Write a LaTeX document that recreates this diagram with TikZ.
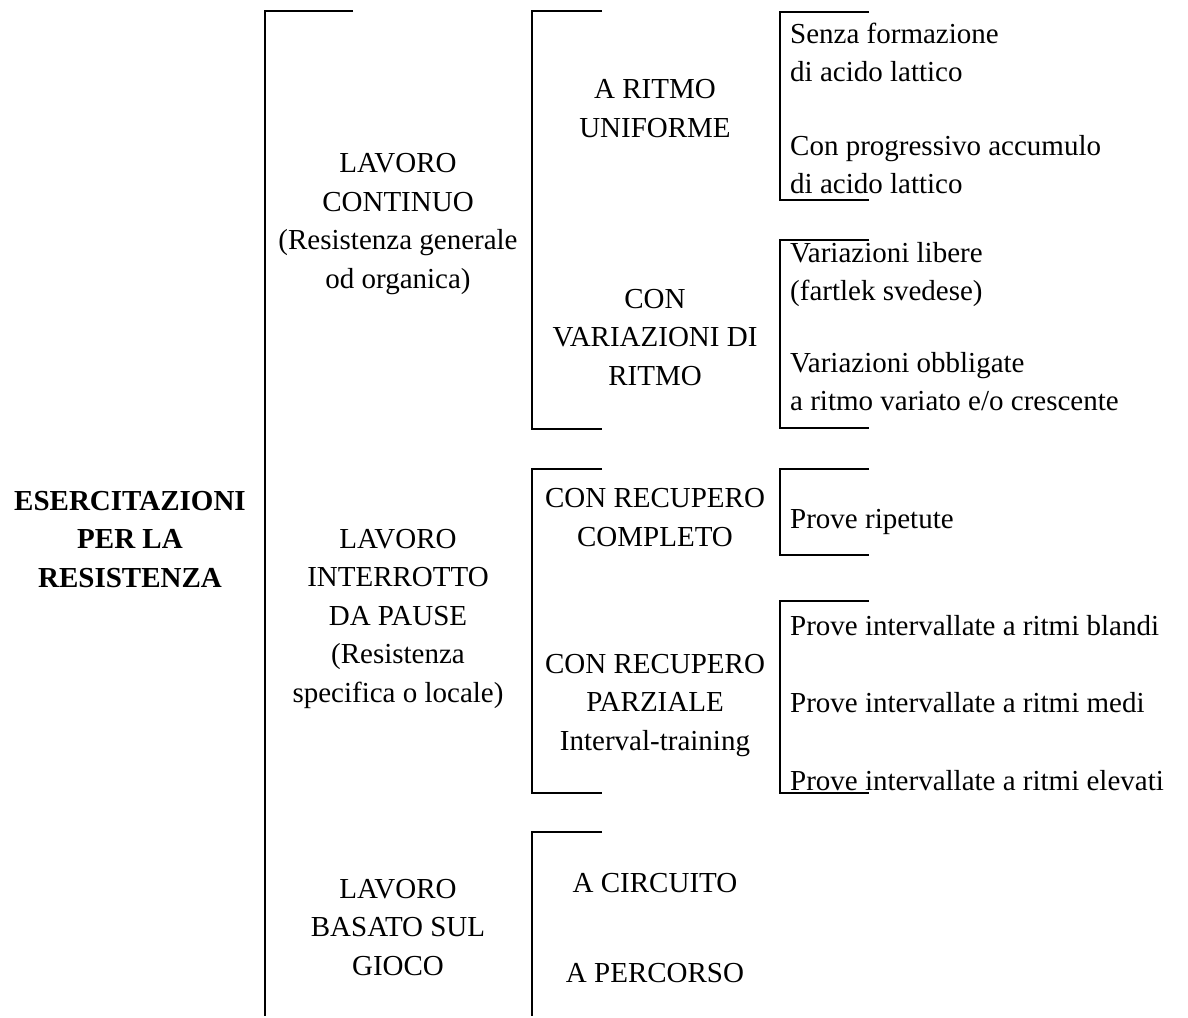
\documentclass[tikz,border=0pt]{standalone}
\usepackage{fontspec}
\setmainfont{Liberation Serif}
\begin{document}
\begin{tikzpicture}[x=1pt,y=-1pt,
  txt/.style={font=\fontsize{29}{38.5}\selectfont, inner sep=0pt, anchor=base, align=center},
  leaf/.style={font=\fontsize{29}{38}\selectfont, inner sep=0pt, anchor=base west, align=left},
  brk/.style={line width=2pt, line join=miter}]
\useasboundingbox (0,0) rectangle (1188,1017);
% ---------- texts (anchored at the baseline of the last line) ----------
\node[txt, font=\fontsize{29}{38.5}\selectfont\bfseries] (root) at (130,587) {ESERCITAZIONI\\PER LA\\RESISTENZA};
\node[txt] (cont) at (398,288) {LAVORO\\CONTINUO\\(Resistenza generale\\od organica)};
\node[txt] (inter) at (398,702) {LAVORO\\INTERROTTO\\DA PAUSE\\(Resistenza\\specifica o locale)};
\node[txt] (gioco) at (398,975) {LAVORO\\BASATO SUL\\GIOCO};
\node[txt] (unif) at (655,137) {A RITMO\\UNIFORME};
\node[txt] (var) at (655,385) {CON\\VARIAZIONI DI\\RITMO};
\node[txt] (compl) at (655,546) {CON RECUPERO\\COMPLETO};
\node[txt] (parz) at (655,750) {CON RECUPERO\\PARZIALE\\Interval-training};
\node[txt] (circ) at (655,892) {A CIRCUITO};
\node[txt] (perc) at (655,982) {A PERCORSO};
\node[leaf] (senza) at (790,81) {Senza formazione\\di acido lattico};
\node[leaf] (accum) at (790,193) {Con progressivo accumulo\\di acido lattico};
\node[leaf] (libere) at (790,300) {Variazioni libere\\(fartlek svedese)};
\node[leaf] (obbl) at (790,410) {Variazioni obbligate\\a ritmo variato e/o crescente};
\node[leaf] (ripet) at (790,528) {Prove ripetute};
\node[leaf] (bland) at (790,635) {Prove intervallate a ritmi blandi};
\node[leaf] (medi) at (790,712) {Prove intervallate a ritmi medi};
\node[leaf] (elev) at (790,790) {Prove intervallate a ritmi elevati};
% ---------- bracket coordinates ----------
\coordinate (a1) at (353,11);  \coordinate (a2) at (265,11);  \coordinate (a3) at (265,1016);
\coordinate (b1) at (602,11);  \coordinate (b2) at (532,11);  \coordinate (b3) at (532,429); \coordinate (b4) at (602,429);
\coordinate (c1) at (602,469); \coordinate (c2) at (532,469); \coordinate (c3) at (532,793); \coordinate (c4) at (602,793);
\coordinate (d1) at (602,832); \coordinate (d2) at (532,832); \coordinate (d3) at (532,1016);
\coordinate (e1) at (869,12);  \coordinate (e2) at (780,12);  \coordinate (e3) at (780,200); \coordinate (e4) at (869,200);
\coordinate (f1) at (869,240); \coordinate (f2) at (780,240); \coordinate (f3) at (780,428); \coordinate (f4) at (869,428);
\coordinate (g1) at (869,469); \coordinate (g2) at (780,469); \coordinate (g3) at (780,555); \coordinate (g4) at (869,555);
\coordinate (h1) at (869,601); \coordinate (h2) at (780,601); \coordinate (h3) at (780,793); \coordinate (h4) at (869,793);
% ---------- brackets ----------
\draw[brk] (a1) -- (a2) -- (a3);
\draw[brk] (b1) -- (b2) -- (b3) -- (b4);
\draw[brk] (c1) -- (c2) -- (c3) -- (c4);
\draw[brk] (d1) -- (d2) -- (d3);
\draw[brk] (e1) -- (e2) -- (e3) -- (e4);
\draw[brk] (f1) -- (f2) -- (f3) -- (f4);
\draw[brk] (g1) -- (g2) -- (g3) -- (g4);
\draw[brk] (h1) -- (h2) -- (h3) -- (h4);
\end{tikzpicture}
\end{document}
